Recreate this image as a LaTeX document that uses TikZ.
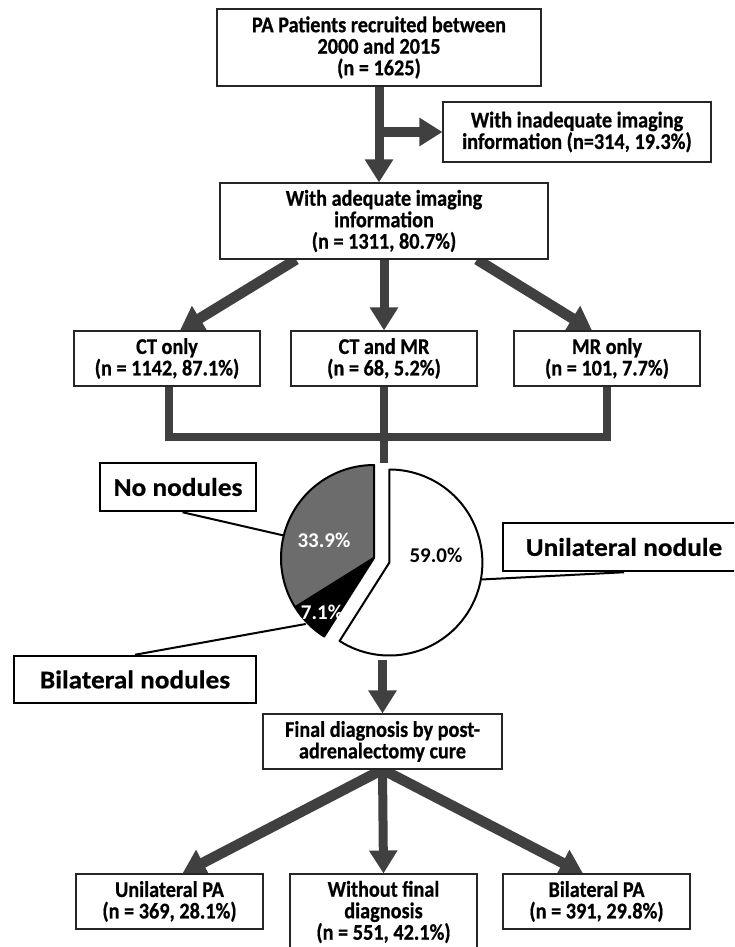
\documentclass[tikz,border=0pt]{standalone}
\usepackage{fontspec}
\setmainfont{Carlito}
\newfontfamily\bxfam{Carlito}[FakeStretch=0.9,FakeBold=0.6]
\newfontfamily\bgfam{Carlito}[FakeStretch=1.07,FakeBold=0.6]
\usetikzlibrary{arrows.meta}
\definecolor{arrcol}{RGB}{64,64,64}
\definecolor{piegray}{RGB}{108,108,108}
\newcommand\bxfont{\bxfam\bfseries\fontsize{22.5}{21.5}\selectfont}
\newcommand\bgfont{\bgfam\bfseries\fontsize{25.5}{30}\selectfont}
\newcommand\pcfont{\bfseries\fontsize{21}{24}\selectfont}
\pgfdeclarelayer{bg}
\pgfsetlayers{bg,main}
\begin{document}
\begin{tikzpicture}[x=1pt,y=-1pt,
  box/.style={draw=black!85, line width=1.1pt, fill=white, align=center, font=\bxfont, inner sep=0pt},
  big/.style={draw=black, line width=2.5pt, fill=white, align=center, font=\bgfont, inner sep=0pt},
  arr/.style={draw=arrcol, line width=9pt, -{Triangle[length=23pt,width=27pt]}},
  arrd/.style={draw=arrcol, line width=10.5pt, -{Triangle[length=23pt,width=28pt]}},
  bar/.style={draw=arrcol, line width=8.5pt},
  pieline/.style={draw=black, line width=2pt, line join=round},
  lead/.style={draw=black, line width=2pt},
  pct/.style={font=\pcfont, inner sep=0pt}]
\useasboundingbox (0,0) rectangle (734,947);
\clip (0,0) rectangle (734,947);
\begin{pgfonlayer}{bg}
\fill[white] (0,0) rectangle (734,947);
\end{pgfonlayer}

% boxes
\node[box, minimum width=324pt, minimum height=77pt] (top) at (379,47.5) {\fontsize{22.5}{22.5}\selectfont PA Patients recruited between\\2000 and 2015\\(n = 1625)};
\node[box, minimum width=268pt, minimum height=60pt] (inad) at (577,132) {With inadequate imaging\\information (n=314, 19.3\%)};
\node[box, minimum width=328pt, minimum height=76pt] (adeq) at (384,221) {With adequate imaging\\information\\(n = 1311, 80.7\%)};
\node[box, minimum width=186pt, minimum height=55pt] (ct) at (167,358.5) {\fontsize{22.5}{20}\selectfont CT only\\(n = 1142, 87.1\%)};
\node[box, minimum width=186pt, minimum height=55pt] (ctmr) at (384,358.5) {\fontsize{22.5}{20}\selectfont CT and MR\\(n = 68, 5.2\%)};
\node[box, minimum width=186pt, minimum height=55pt] (mr) at (607,358.5) {\fontsize{22.5}{20}\selectfont MR only\\(n = 101, 7.7\%)};
\node[box, minimum width=239pt, minimum height=55pt] (final) at (382.5,741.5) {Final diagnosis by post-\\adrenalectomy cure};
\node[box, minimum width=187pt, minimum height=55pt] (upa) at (169.5,901.5) {\fontsize{22.5}{20.5}\selectfont Unilateral PA\\(n = 369, 28.1\%)};
\node[box, minimum width=187pt, minimum height=76pt] (wof) at (383.5,912) {Without final\\diagnosis\\(n = 551, 42.1\%)};
\node[box, minimum width=187pt, minimum height=55pt] (bpa) at (596.5,901.5) {\fontsize{22.5}{20.5}\selectfont Bilateral PA\\(n = 391, 29.8\%)};

% pie
\coordinate (C) at (374,558);
\coordinate (Cw) at (389.4,562.5);
\draw[pieline, fill=piegray] (C) -- ++(-90:93) arc[start angle=-90, end angle=-212, radius=93] -- cycle;
\draw[pieline, fill=black] (C) -- ++(-212:93) arc[start angle=-212, end angle=-237.6, radius=93] -- cycle;
\draw[pieline, fill=white] (Cw) -- ++(-237.6:93) arc[start angle=-237.6, end angle=-450, radius=93] -- cycle;
\node[pct, text=white] (p1) at (324,540) {33.9\%};
\node[pct, text=white] (p2) at (322,612) {7.1\%};
\node[pct] (p3) at (436,555) {59.0\%};

% label boxes
\node[big, minimum width=156pt, minimum height=48pt] (nonod) at (178,487) {No nodules};
\node[big, minimum width=242pt, minimum height=48pt] (uni) at (624,547) {Unilateral nodule};
\node[big, minimum width=242pt, minimum height=47pt] (bil) at (135,679.5) {Bilateral nodules};

\path (C) ++(-166:93) coordinate (ln1);
\path (Cw) ++(10.4:94) coordinate (ln2);
\path (C) ++(-224:95) coordinate (ln3);
\draw[lead] ([xshift=4.6pt]nonod.south) -- (ln1);
\draw[lead] (uni.south) -- (ln2);
\draw[lead] (bil.north) -- (ln3);

\coordinate (j) at (384,437);
\coordinate (pt) at (384,463);
\coordinate (pb) at (384,660);

\begin{pgfonlayer}{bg}
\draw[arr] (top.south) -- (top.south |- adeq.north);
\draw[arr] (top.south |- inad.west) -- (inad.west);
\draw[arrd] ([xshift=-88pt]adeq.south) -- ([xshift=13pt]ct.north);
\draw[arr] (adeq.south) -- (ctmr.north);
\draw[arrd] ([xshift=93pt]adeq.south) -- ([xshift=-15pt]mr.north);
\draw[bar] ([xshift=2pt]ct.south) -- ([xshift=2pt]ct.south |- j) -- (mr.south |- j) -- (mr.south);
\draw[bar] (ctmr.south) -- (pt);
\draw[arr] (final.north |- pb) -- (final.north);
\draw[arrd] (final.south) -- ([xshift=13pt]upa.north);
\draw[arr] (final.south) -- (wof.north);
\draw[arrd] (final.south) -- ([xshift=-13.5pt]bpa.north);
\end{pgfonlayer}
\end{tikzpicture}
\end{document}
